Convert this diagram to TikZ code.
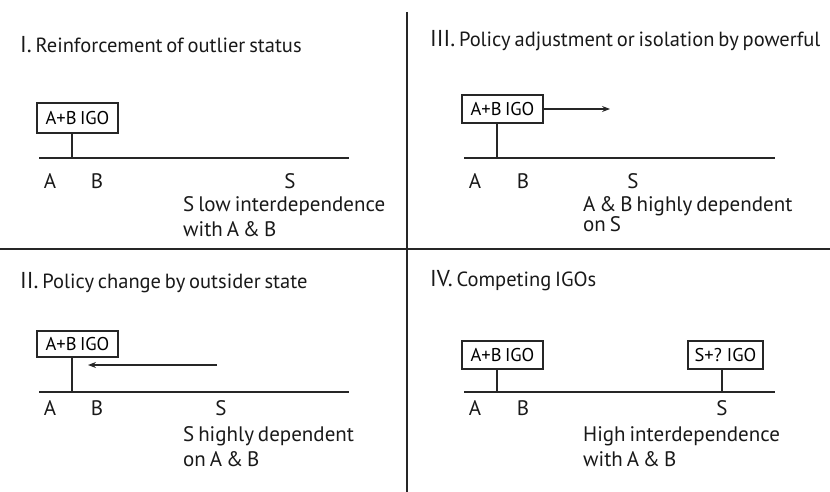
\documentclass[tikz,border=0pt]{standalone}
\usepackage{fontspec}
\setmainfont{PT Sans}[WordSpace=0.7]
\usetikzlibrary{arrows.meta}
\tikzset{
  ln/.style={line width=1.1pt, draw=black!85},
  igo/.style={draw=black!85, line width=1.1pt, minimum height=28pt, inner sep=0pt, font=\fontsize{18.5}{22}\selectfont},
  txt/.style={inner sep=0pt, font=\fontsize{21}{24}\selectfont, text=black!90},
  lab/.style={txt, anchor=base},
  note/.style={txt, anchor=base west, align=left},
  ttl/.style={txt, anchor=base west, font=\fontsize{20.5}{24}\selectfont},
  arr/.style={ln, -{Stealth[length=8pt,width=6pt]}}
}
\newcommand{\numl}[1]{{\fontsize{23}{24}\selectfont #1}}
\begin{document}
\begin{tikzpicture}[x=1pt,y=-1pt]
\useasboundingbox (0,0) rectangle (830,492);
% dividers
\coordinate (vt) at (407,12);
\coordinate (vb) at (407,492);
\coordinate (hl) at (0,249);
\coordinate (hr) at (830,249);
\draw[ln] (vt) -- (vb);
\draw[ln] (hl) -- (hr);

% ---------- Panel I ----------
\node[ttl] (t1) at (20,53) {\numl{I.} Reinforcement of outlier status};
\node[igo, minimum width=81pt, minimum height=30pt] (b1) at (77.5,118) {A+B IGO};
\coordinate (ax1l) at (39,158);
\coordinate (ax1r) at (349,158);
\draw[ln] (ax1l) -- (ax1r);
\coordinate (s1) at (72,158);
\draw[ln] (s1) -- (s1 |- b1.south);
\node[lab] (A1) at (50,189) {A};
\node[lab] (B1) at (97,189) {B};
\node[lab] (S1) at (290,189) {S};
\node[note] (n1a) at (183,211) {S low interdependence};
\node[note] (n1b) at (183,236) {with A \& B};

% ---------- Panel III ----------
\node[ttl] (t3) at (430,47) {\numl{III.} Policy adjustment or isolation by powerful};
\node[igo, minimum width=81pt] (b3) at (502.5,109) {A+B IGO};
\coordinate (ar3) at (610,109);
\draw[arr] (b3.east) -- (ar3);
\coordinate (ax3l) at (464,158);
\coordinate (ax3r) at (775,158);
\draw[ln] (ax3l) -- (ax3r);
\coordinate (s3) at (497,158);
\draw[ln] (s3) -- (s3 |- b3.south);
\node[lab] (A3) at (475,189) {A};
\node[lab] (B3) at (523,189) {B};
\node[lab] (S3) at (633,189) {S};
\node[note] (n3a) at (583,211) {A \& B highly dependent};
\node[note] (n3b) at (583,231) {on S};

% ---------- Panel II ----------
\node[ttl] (t2) at (20,288) {\numl{II.} Policy change by outsider state};
\node[igo, minimum width=81pt, minimum height=26pt] (b2) at (77.5,344) {A+B IGO};
\coordinate (ar2s) at (217,365);
\coordinate (ar2e) at (88,365);
\draw[arr] (ar2s) -- (ar2e);
\coordinate (ax2l) at (39,392);
\coordinate (ax2r) at (349,392);
\draw[ln] (ax2l) -- (ax2r);
\coordinate (s2) at (72,392);
\draw[ln] (s2) -- (s2 |- b2.south);
\node[lab] (A2) at (50,415) {A};
\node[lab] (B2) at (97,415) {B};
\node[lab] (S2) at (221,415) {S};
\node[note] (n2a) at (183,441) {S highly dependent};
\node[note] (n2b) at (183,466) {on A \& B};

% ---------- Panel IV ----------
\node[ttl] (t4) at (430,286) {\numl{IV.} Competing IGOs};
\node[igo, minimum width=81pt] (b4a) at (502.5,355) {A+B IGO};
\node[igo, minimum width=75pt] (b4b) at (725.5,355) {S+? IGO};
\coordinate (ax4l) at (464,392);
\coordinate (ax4r) at (775,392);
\draw[ln] (ax4l) -- (ax4r);
\coordinate (s4a) at (497,392);
\coordinate (s4b) at (722,392);
\draw[ln] (s4a) -- (s4a |- b4a.south);
\draw[ln] (s4b) -- (s4b |- b4b.south);
\node[lab] (A4) at (475,415) {A};
\node[lab] (B4) at (523,415) {B};
\node[lab] (S4) at (722,415) {S};
\node[note] (n4a) at (583,441) {High interdependence};
\node[note] (n4b) at (583,466) {with A \& B};
\end{tikzpicture}
\end{document}
